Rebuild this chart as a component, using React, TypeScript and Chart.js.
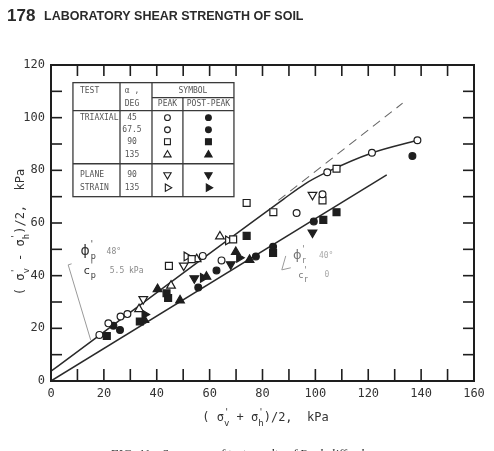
import React, { useEffect, useRef } from "react";
import { Chart, registerables } from "chart.js";
import { drawPoint } from "chart.js/helpers";

Chart.register(...registerables);

type XY = [number, number];

// ---------- data ----------
const xMin = 0, xMax = 160, xStep = 20;
const yMin = 0, yMax = 120, yStep = 20;
const minorStep = 10;

// peak (open symbols)
const peakCircle: XY[] = [[18.3, 17.5], [21.7, 21.9], [26.3, 24.5], [28.9, 25.4], [57.4, 47.5], [64.5, 45.8], [92.9, 63.8], [102.7, 70.9], [104.5, 79.3], [121.4, 86.7], [138.6, 91.4]];
const peakSquare: XY[] = [[44.6, 43.7], [53.2, 46.3], [68.9, 53.8], [74.0, 67.6], [84.1, 64.1], [102.7, 68.6], [108.0, 80.6]];
const peakTriangle: XY[] = [[33.3, 27.3], [45.4, 36.2], [55.1, 46.3], [63.9, 54.9]];
const peakDown: XY[] = [[34.9, 31.1], [50.2, 43.8], [98.9, 70.7]];
const peakRight: XY[] = [[51.3, 47.3], [67.0, 53.4]];

// post-peak (filled symbols)
const postCircle: XY[] = [[23.6, 21.0], [26.1, 19.4], [55.7, 35.5], [62.6, 42.0], [77.5, 47.3], [84.0, 51.0], [99.4, 60.6], [136.7, 85.4]];
const postSquare: XY[] = [[21.1, 17.1], [33.6, 22.6], [43.7, 33.3], [44.3, 31.5], [74.0, 55.1], [84.0, 48.6], [103.0, 61.2], [108.0, 64.1]];
const postTriangle: XY[] = [[35.3, 23.2], [40.3, 34.9], [48.8, 30.6], [58.8, 39.6], [69.9, 49.0], [75.1, 46.0]];
const postDown: XY[] = [[54.2, 39.0], [68.0, 44.3], [98.9, 56.4]];
const postRight: XY[] = [[35.4, 25.3], [57.5, 39.2], [71.2, 46.8]];

// fitted envelopes
const peakEnvelope: XY[] = [[0, 3.7], [88, 69.1], [96, 74.8], [104.5, 79.4], [121.4, 86.6], [138.6, 91.4]];
const peakExtension: XY[] = [[86, 68.6], [133, 105.5]];
const residualEnvelope: XY[] = [[0, 0], [127, 78.3]];

// faint pencil marks
const peakLeader: XY[] = [[7.8, 44.5], [6.5, 44.1], [15.0, 15.6]];
const residualBracket: XY[] = [[88.8, 47.5], [87.3, 42.2], [90.7, 43.0]];

// legend table
const tableCols = [8.3, 26.1, 38.2, 49.9, 69.2];
const tableRowsY = [113.3, 107.6, 102.7, 82.5, 70.0];
const tableRows = [
  { test: "TRIAXIAL", alpha: "45", style: "circle", rot: 0 },
  { test: "", alpha: "67.5", style: "circle", rot: 0 },
  { test: "", alpha: "90", style: "rect", rot: 0 },
  { test: "", alpha: "135", style: "triangle", rot: 0 },
  { test: "PLANE", alpha: "90", style: "triangle", rot: 180 },
  { test: "STRAIN", alpha: "135", style: "triangle", rot: 90 },
];
const tableRowValues = [100.0, 95.4, 90.9, 85.9, 78.3, 73.4];

const phiPeak = "48°";
const cPeak = "5.5 kPa";
const phiRes = "40°";
const cRes = "0";

const INK = "#1e1e1e";

const toPts = (a: XY[]) => a.map(([x, y]) => ({ x, y }));

const markerSizes: Record<string, number> = { circle: 3.4, rect: 4.9, triangle: 5.0 };

function markerSet(label: string, data: XY[], style: string, filled: boolean, rot = 0) {
  return {
    type: "scatter" as const,
    label,
    data: toPts(data),
    pointStyle: style,
    rotation: rot,
    pointRadius: markerSizes[style],
    pointBorderWidth: 1.2,
    pointBorderColor: INK,
    pointBackgroundColor: filled ? INK : "#ffffff",
    showLine: false,
  };
}

function lineSet(label: string, data: XY[], opts: any = {}) {
  return {
    type: "line" as const,
    label,
    data: toPts(data),
    borderColor: "#2a2a2a",
    borderWidth: 1.5,
    pointRadius: 0,
    fill: false,
    ...opts,
  };
}

type Seg = { t: string; sup?: string; sub?: string };

function drawRich(ctx: CanvasRenderingContext2D, segs: Seg[], cx: number, cy: number, font: string, small: string) {
  const widths = segs.map((s) => {
    ctx.font = font;
    const w = ctx.measureText(s.t).width;
    ctx.font = small;
    const w2 = Math.max(s.sup ? ctx.measureText(s.sup).width : 0, s.sub ? ctx.measureText(s.sub).width : 0);
    return w + w2;
  });
  const total = widths.reduce((a, b) => a + b, 0);
  let x = cx - total / 2;
  ctx.textAlign = "left";
  ctx.textBaseline = "alphabetic";
  segs.forEach((s, i) => {
    ctx.font = font;
    ctx.fillText(s.t, x, cy);
    const w = ctx.measureText(s.t).width;
    ctx.font = small;
    if (s.sup) ctx.fillText(s.sup, x + w, cy - 6);
    if (s.sub) ctx.fillText(s.sub, x + w, cy + 5);
    x += widths[i];
  });
}

const decoPlugin = {
  id: "deco",
  afterDraw(chart: any) {
    const { ctx, chartArea: a } = chart;
    const xs = chart.scales.x, ys = chart.scales.y;
    const X = (v: number) => xs.getPixelForValue(v);
    const Y = (v: number) => ys.getPixelForValue(v);
    ctx.save();

    const poly = (pts: XY[]) => {
      ctx.beginPath();
      pts.forEach(([px, py], i) => (i ? ctx.lineTo(X(px), Y(py)) : ctx.moveTo(X(px), Y(py))));
      ctx.stroke();
    };

    // faint pencil marks
    ctx.strokeStyle = "#9a9a9a";
    ctx.lineWidth = 1;
    poly(peakLeader);
    poly(residualBracket);

    // frame
    ctx.strokeStyle = INK;
    ctx.lineWidth = 2;
    ctx.strokeRect(a.left, a.top, a.right - a.left, a.bottom - a.top);

    // inward ticks on four sides
    ctx.lineWidth = 1.6;
    const seg = (x1: number, y1: number, x2: number, y2: number) => {
      ctx.beginPath(); ctx.moveTo(x1, y1); ctx.lineTo(x2, y2); ctx.stroke();
    };
    for (let v = xMin + minorStep; v < xMax; v += minorStep) {
      const px = X(v);
      seg(px, a.bottom, px, a.bottom - 12);
      seg(px, a.top, px, a.top + 11);
    }
    for (let v = yMin + minorStep; v < yMax; v += minorStep) {
      const py = Y(v);
      seg(a.left, py, a.left + 11, py);
      seg(a.right, py, a.right - 11, py);
    }

    // legend table
    ctx.strokeStyle = "#3a3a3a";
    ctx.lineWidth = 1.3;
    const [c0, c1, c2, c3, c4] = tableCols;
    const [r0, r1, r2, r3, r4] = tableRowsY;
    ctx.strokeRect(X(c0), Y(r0), X(c4) - X(c0), Y(r4) - Y(r0));
    seg(X(c1), Y(r0), X(c1), Y(r4));
    seg(X(c2), Y(r0), X(c2), Y(r4));
    seg(X(c3), Y(r1), X(c3), Y(r4));
    seg(X(c2), Y(r1), X(c4), Y(r1));
    seg(X(c0), Y(r2), X(c4), Y(r2));
    seg(X(c0), Y(r3), X(c4), Y(r3));

    ctx.fillStyle = "#555";
    ctx.font = '8px "DejaVu Sans Mono"';
    ctx.textBaseline = "middle";
    const col1x = X(c0) + 7;
    const col2x = (X(c1) + X(c2)) / 2 - 4;
    const col3x = (X(c2) + X(c3)) / 2;
    const col4x = (X(c3) + X(c4)) / 2;
    const h1 = (Y(r0) + Y(r1)) / 2 + 1;
    const h2 = (Y(r1) + Y(r2)) / 2;
    ctx.textAlign = "left";
    ctx.fillText("TEST", col1x, h1);
    ctx.textAlign = "center";
    ctx.fillText("α ,", col2x, h1);
    ctx.fillText("DEG", col2x, h2);
    ctx.fillText("SYMBOL", (X(c2) + X(c4)) / 2, h1);
    ctx.fillText("PEAK", col3x, h2);
    ctx.fillText("POST-PEAK", col4x, h2);

    tableRows.forEach((r, i) => {
      const py = Y(tableRowValues[i]);
      ctx.fillStyle = "#555";
      ctx.font = '8px "DejaVu Sans Mono"';
      ctx.textAlign = "left";
      if (r.test) ctx.fillText(r.test, col1x, py);
      ctx.textAlign = "center";
      ctx.fillText(r.alpha, col2x, py);
      const o = { pointStyle: r.style, rotation: r.rot, radius: markerSizes[r.style] * 0.85, borderWidth: 1.1 };
      ctx.strokeStyle = INK;
      ctx.lineWidth = 1.1;
      ctx.fillStyle = "#fff";
      drawPoint(ctx, o as any, col3x, py);
      ctx.fillStyle = INK;
      drawPoint(ctx, o as any, col4x, py);
    });

    // envelope annotations
    ctx.textAlign = "left";
    ctx.textBaseline = "alphabetic";
    const ann = (sym: string, sub: string, val: string, px: number, py: number, big: number, ink: string, faint: string) => {
      ctx.font = `${big}px "DejaVu Sans"`;
      ctx.fillStyle = ink;
      ctx.fillText(sym, px, py);
      const w = ctx.measureText(sym).width;
      ctx.font = '8px "DejaVu Sans"';
      ctx.fillText("'", px + w + 1, py - big * 0.55);
      ctx.fillText(sub, px + w + 1, py + 4);
      ctx.fillStyle = faint;
      ctx.font = '8px "DejaVu Sans Mono"';
      ctx.fillText(val, px + 26, py - 1);
    };
    ann("ϕ", "p", phiPeak, X(11.2), Y(47.9), 14, "#333", "#888");
    ann("c", "p", cPeak, X(12.4), Y(40.6), 11, "#333", "#888");
    ann("ϕ", "r", phiRes, X(91.5), Y(46.4), 13, "#777", "#aaa");
    ann("c", "r", cRes, X(93.6), Y(39.1), 9, "#777", "#aaa");

    // axis titles
    ctx.fillStyle = "#333";
    const f = '12px "DejaVu Sans Mono"';
    const s = '9px "DejaVu Sans Mono"';
    drawRich(ctx, [{ t: "( σ", sup: "'", sub: "v" }, { t: " + σ", sup: "'", sub: "h" }, { t: ")/2,  kPa" }], (a.left + a.right) / 2 + 3, a.bottom + 40, f, s);
    ctx.translate(24, (a.top + a.bottom) / 2 + 9);
    ctx.rotate(-Math.PI / 2);
    drawRich(ctx, [{ t: "( σ", sup: "'", sub: "v" }, { t: " - σ", sup: "'", sub: "h" }, { t: ")/2,  kPa" }], 0, 0, f, s);
    ctx.setTransform(1, 0, 0, 1, 0, 0);

    // page header and caption
    ctx.fillStyle = "#2a2a2a";
    ctx.textAlign = "left";
    ctx.font = 'bold 17px "Liberation Sans"';
    ctx.fillText("178", 7, 21);
    ctx.font = 'bold 12.5px "Liberation Sans"';
    ctx.fillText("LABORATORY SHEAR STRENGTH OF SOIL", 44, 20);
    ctx.font = 'italic 13px "Liberation Serif"';
    ctx.fillStyle = "#333";
    ctx.fillText("FIG. 11—Summary of test results of Backcliffe clay.", 110, 458);

    ctx.restore();
  },
};

export default function App() {
  const ref = useRef<HTMLCanvasElement | null>(null);
  useEffect(() => {
    if (!ref.current) return;
    const chart = new Chart(ref.current, {
      type: "scatter",
      data: {
        datasets: [
          markerSet("Triaxial peak (α 45/67.5)", peakCircle, "circle", false),
          markerSet("Triaxial peak (α 90)", peakSquare, "rect", false),
          markerSet("Triaxial peak (α 135)", peakTriangle, "triangle", false),
          markerSet("Plane strain peak (α 90)", peakDown, "triangle", false, 180),
          markerSet("Plane strain peak (α 135)", peakRight, "triangle", false, 90),
          markerSet("Triaxial post-peak (α 45/67.5)", postCircle, "circle", true),
          markerSet("Triaxial post-peak (α 90)", postSquare, "rect", true),
          markerSet("Triaxial post-peak (α 135)", postTriangle, "triangle", true),
          markerSet("Plane strain post-peak (α 90)", postDown, "triangle", true, 180),
          markerSet("Plane strain post-peak (α 135)", postRight, "triangle", true, 90),
          lineSet("Peak envelope", peakEnvelope, { cubicInterpolationMode: "monotone" }),
          lineSet("Peak extension", peakExtension, { borderDash: [9, 6], borderWidth: 1.1, borderColor: "#666" }),
          lineSet("Residual envelope", residualEnvelope),
        ] as any,
      },
      options: {
        animation: false,
        responsive: false,
        devicePixelRatio: 1,
        layout: { padding: { top: 65, right: 20, left: 0, bottom: 0 } },
        plugins: { legend: { display: false }, tooltip: { enabled: false }, title: { display: false } },
        scales: {
          x: {
            type: "linear",
            min: xMin,
            max: xMax,
            afterFit: (s: any) => { s.height = 70; },
            grid: { display: false, drawTicks: false },
            border: { display: false },
            ticks: { stepSize: xStep, padding: 6, color: "#333", font: { family: "DejaVu Sans Mono", size: 12 } },
          },
          y: {
            type: "linear",
            min: yMin,
            max: yMax,
            afterFit: (s: any) => { s.width = 51; },
            grid: { display: false, drawTicks: false },
            border: { display: false },
            ticks: { stepSize: yStep, padding: 6, color: "#333", font: { family: "DejaVu Sans Mono", size: 12 } },
          },
        },
      } as any,
      plugins: [decoPlugin],
    });
    return () => chart.destroy();
  }, []);
  return (
    <canvas
      ref={ref}
      width={494}
      height={451}
      style={{ position: "absolute", left: 0, top: 0, width: 494, height: 451 }}
    />
  );
}
